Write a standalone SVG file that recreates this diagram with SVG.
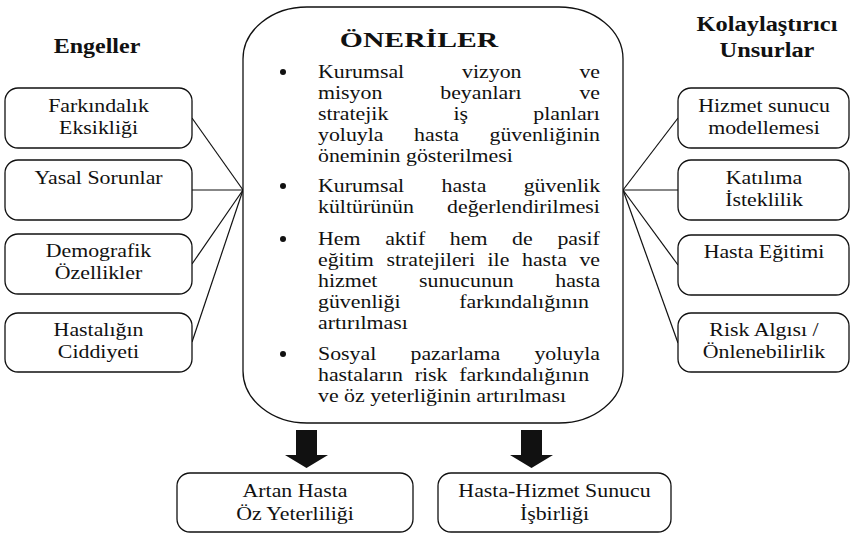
<svg xmlns="http://www.w3.org/2000/svg" width="851" height="534" viewBox="0 0 851 534">
<style>
.lbl{font-size:19px;text-anchor:middle;fill:#111}
.hd{font-size:20px;font-weight:bold;text-anchor:middle;fill:#111}
.body{font-size:19px;fill:#111}
.box{fill:#fff;stroke:#111;stroke-width:1.3}
.con line{stroke:#111;stroke-width:1.2}
.arr{fill:#111}
</style>
<rect width="851" height="534" fill="#fff"/>

<g id="headings">
<text class="hd" font-family="Liberation Serif" transform="translate(97 0) scale(1.2 1)"><tspan x="0" y="53">Engeller</tspan></text>
<text class="hd" font-family="Liberation Serif" transform="translate(767 0) scale(1.22 1)"><tspan x="0" y="31">Kolaylaştırıcı</tspan><tspan x="0" y="57">Unsurlar</tspan></text>
</g>

<g class="con" id="connectors">
<line x1="192" y1="118" x2="243" y2="190"/>
<line x1="192" y1="190" x2="243" y2="190"/>
<line x1="192" y1="264" x2="243" y2="190"/>
<line x1="192" y1="342" x2="243" y2="190"/>
<line x1="678" y1="118" x2="623" y2="190"/>
<line x1="678" y1="190" x2="623" y2="190"/>
<line x1="678" y1="265" x2="623" y2="190"/>
<line x1="678" y1="343" x2="623" y2="190"/>
<polygon class="arr" points="296,430 317,430 317,455 328,455 306.5,468 285,455 296,455"/>
<polygon class="arr" points="521,430 542,430 542,455 553,455 531.5,468 510,455 521,455"/>
</g>

<g id="oneriler">
<rect class="box" x="243" y="7" width="380" height="416" rx="64" ry="52"/>
<text class="hd" font-family="Liberation Serif" transform="translate(419 0) scale(1.35 1)" style="font-size:22px"><tspan x="0" y="47">ÖNERİLER</tspan></text>
<circle cx="283" cy="72" r="3" fill="#111"/>
<circle cx="283" cy="186" r="3" fill="#111"/>
<circle cx="283" cy="239" r="3" fill="#111"/>
<circle cx="283" cy="354" r="3" fill="#111"/>
<g class="body" font-family="Liberation Serif" transform="translate(318 0) scale(1.15 1)">
<text font-family="Liberation Serif" y="78" style="word-spacing:45.6px">Kurumsal vizyon ve</text>
<text font-family="Liberation Serif" y="99" style="word-spacing:45.6px">misyon beyanları ve</text>
<text font-family="Liberation Serif" y="120" style="word-spacing:51.9px">stratejik iş planları</text>
<text font-family="Liberation Serif" y="141" style="word-spacing:21.8px">yoluyla hasta güvenliğinin</text>
<text font-family="Liberation Serif" y="162">öneminin gösterilmesi</text>
<text font-family="Liberation Serif" y="192" style="word-spacing:27.7px">Kurumsal hasta güvenlik</text>
<text font-family="Liberation Serif" y="213" style="word-spacing:24.1px">kültürünün değerlendirilmesi</text>
<text font-family="Liberation Serif" y="245" style="word-spacing:16.7px">Hem aktif hem de pasif</text>
<text font-family="Liberation Serif" y="266" style="word-spacing:6.2px">eğitim stratejileri ile hasta ve</text>
<text font-family="Liberation Serif" y="287" style="word-spacing:31.4px">hizmet sunucunun hasta</text>
<text font-family="Liberation Serif" y="308" style="word-spacing:46.3px">güvenliği farkındalığının</text>
<text font-family="Liberation Serif" y="329">artırılması</text>
<text font-family="Liberation Serif" y="360" style="word-spacing:25px">Sosyal pazarlama yoluyla</text>
<text font-family="Liberation Serif" y="381" style="word-spacing:5.5px">hastaların risk farkındalığının</text>
<text font-family="Liberation Serif" y="402">ve öz yeterliğinin artırılması</text>
</g>
</g>

<g id="farkindalik">
<rect class="box" x="5" y="88" width="187" height="60" rx="13"/>
<text class="lbl" font-family="Liberation Serif" transform="translate(98.5 0) scale(1.15 1)"><tspan x="0" y="112">Farkındalık</tspan><tspan x="0" y="134">Eksikliği</tspan></text>
</g>
<g id="yasal">
<rect class="box" x="5" y="160" width="187" height="60" rx="13"/>
<text class="lbl" font-family="Liberation Serif" transform="translate(98.5 0) scale(1.15 1)"><tspan x="0" y="184">Yasal Sorunlar</tspan></text>
</g>
<g id="demografik">
<rect class="box" x="5" y="234" width="187" height="60" rx="13"/>
<text class="lbl" font-family="Liberation Serif" transform="translate(98.5 0) scale(1.15 1)"><tspan x="0" y="257">Demografik</tspan><tspan x="0" y="279">Özellikler</tspan></text>
</g>
<g id="hastalik">
<rect class="box" x="5" y="313" width="187" height="59" rx="13"/>
<text class="lbl" font-family="Liberation Serif" transform="translate(98.5 0) scale(1.15 1)"><tspan x="0" y="336">Hastalığın</tspan><tspan x="0" y="358">Ciddiyeti</tspan></text>
</g>

<g id="hizmet">
<rect class="box" x="678" y="88" width="171" height="60" rx="13"/>
<text class="lbl" font-family="Liberation Serif" transform="translate(764 0) scale(1.15 1)"><tspan x="0" y="112">Hizmet sunucu</tspan><tspan x="0" y="134">modellemesi</tspan></text>
</g>
<g id="katilima">
<rect class="box" x="678" y="160" width="171" height="60" rx="13"/>
<text class="lbl" font-family="Liberation Serif" transform="translate(764 0) scale(1.15 1)"><tspan x="0" y="184">Katılıma</tspan><tspan x="0" y="206">İsteklilik</tspan></text>
</g>
<g id="egitim">
<rect class="box" x="678" y="235" width="171" height="60" rx="13"/>
<text class="lbl" font-family="Liberation Serif" transform="translate(764 0) scale(1.15 1)"><tspan x="0" y="258">Hasta Eğitimi</tspan></text>
</g>
<g id="risk">
<rect class="box" x="678" y="313" width="171" height="59" rx="13"/>
<text class="lbl" font-family="Liberation Serif" transform="translate(764 0) scale(1.15 1)"><tspan x="0" y="336">Risk Algısı /</tspan><tspan x="0" y="358">Önlenebilirlik</tspan></text>
</g>

<g id="ozyeterlilik">
<rect class="box" x="177" y="473" width="236" height="59" rx="13"/>
<text class="lbl" font-family="Liberation Serif" transform="translate(295 0) scale(1.15 1)"><tspan x="0" y="497">Artan Hasta</tspan><tspan x="0" y="520">Öz Yeterliliği</tspan></text>
</g>
<g id="isbirligi">
<rect class="box" x="438" y="473" width="233" height="59" rx="13"/>
<text class="lbl" font-family="Liberation Serif" transform="translate(554.5 0) scale(1.15 1)"><tspan x="0" y="497">Hasta-Hizmet Sunucu</tspan><tspan x="0" y="520">İşbirliği</tspan></text>
</g>
</svg>
